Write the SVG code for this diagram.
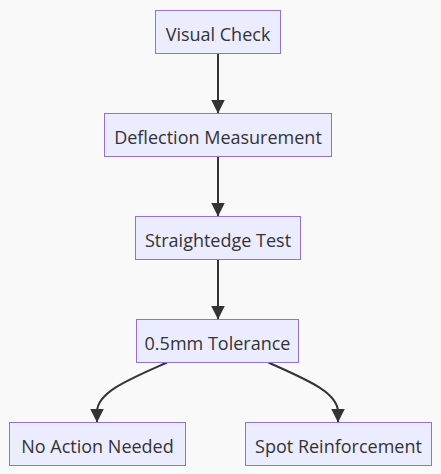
<svg xmlns="http://www.w3.org/2000/svg" width="441" height="474" viewBox="0 0 441 474">
<style>
.node rect{fill:#ECECFF;stroke:#9370DB;stroke-width:1px}
.node text{font-family:"Open Sans","Liberation Sans",sans-serif;font-size:18px;fill:#333;text-anchor:middle}
.edge{fill:none;stroke:#333;stroke-width:2px}
</style>
<defs>
<marker id="arrow" viewBox="0 0 10 10" refX="10" refY="5" markerUnits="userSpaceOnUse" markerWidth="14" markerHeight="14" orient="auto">
<path d="M0,0L10,5L0,10z" fill="#333"/>
</marker>
</defs>
<rect width="441" height="474" fill="#f9f9f9"/>
<g id="connectors">
<path class="edge" d="M218,53.5L218,113.5" marker-end="url(#arrow)"/>
<path class="edge" d="M218,156.5L218,216.5" marker-end="url(#arrow)"/>
<path class="edge" d="M218,259.5L218,319.5" marker-end="url(#arrow)"/>
<path class="edge" d="M167,362.5C130,379 97,392 97,412L97,422.5" marker-end="url(#arrow)"/>
<path class="edge" d="M268.5,362.5C305,379 338,392 338,412L338,422.5" marker-end="url(#arrow)"/>
</g>
<g id="visual" class="node"><rect x="155.5" y="10.5" width="125" height="43"/><text x="218" y="40.5">Visual Check</text></g>
<g id="deflection" class="node"><rect x="104.5" y="113.5" width="227" height="43"/><text x="218" y="143.5">Deflection Measurement</text></g>
<g id="straightedge" class="node"><rect x="135.5" y="216.5" width="165" height="43"/><text x="218" y="246.5">Straightedge Test</text></g>
<g id="tolerance" class="node"><rect x="136.5" y="319.5" width="162" height="43"/><text x="217.5" y="349.5">0.5mm Tolerance</text></g>
<g id="noaction" class="node"><rect x="9.5" y="422.5" width="176" height="43"/><text x="97.5" y="452.5">No Action Needed</text></g>
<g id="spot" class="node"><rect x="245.5" y="422.5" width="186" height="43"/><text x="338.5" y="452.5">Spot Reinforcement</text></g>
</svg>
